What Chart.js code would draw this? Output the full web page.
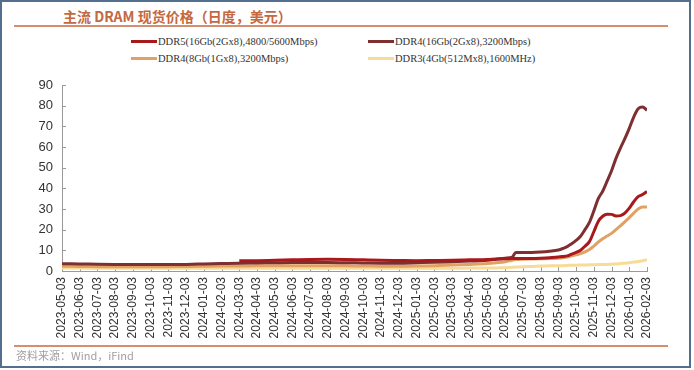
<!DOCTYPE html>
<html>
<head>
<meta charset="utf-8">
<script src="https://cdn.jsdelivr.net/npm/chart.js@4.4.1/dist/chart.umd.min.js"></script>
<style>
  body { margin: 0; width: 694px; height: 370px; background: #fff; overflow: hidden; position: relative; }
  #frame { position: absolute; left: 0; top: 0; width: 691px; height: 368px; border: 2px solid #52708e; box-sizing: border-box; }
  #title { position: absolute; left: 63px; top: 6px; font: bold 14px 'Noto Sans CJK SC', sans-serif; color: #c4683f; white-space: nowrap; }
  .rule { position: absolute; left: 14px; width: 654px; height: 2px; background: #d58f70; }
  #source { position: absolute; left: 16px; top: 347px; font: 11px 'Noto Sans CJK SC', sans-serif; color: #a0a0a0; }
  .lg { position: absolute; font: 10.5px 'Liberation Serif', serif; color: #333; white-space: nowrap; }
  .lg i { display: inline-block; width: 26px; height: 3px; vertical-align: middle; margin-right: 1px; position: relative; top: -1px; }
  #chart { position: absolute; left: 0; top: 0; }
</style>
</head>
<body>
<div id="frame"></div>
<div id="title">主流 DRAM 现货价格（日度，美元）</div>
<div class="rule" style="top:25px"></div>
<div id="legend"></div>
<canvas id="chart" width="694" height="370"></canvas>
<div class="rule" style="top:345px"></div>
<div id="source">资料来源：Wind，iFind</div>
<script>
// tick labels, one per month
const monthLabels = [
  '2023-05-03', '2023-06-03', '2023-07-03', '2023-08-03', '2023-09-03', '2023-10-03',
  '2023-11-03', '2023-12-03', '2024-01-03', '2024-02-03', '2024-03-03', '2024-04-03',
  '2024-05-03', '2024-06-03', '2024-07-03', '2024-08-03', '2024-09-03', '2024-10-03',
  '2024-11-03', '2024-12-03', '2025-01-03', '2025-02-03', '2025-03-03', '2025-04-03',
  '2025-05-03', '2025-06-03', '2025-07-03', '2025-08-03', '2025-09-03', '2025-10-03',
  '2025-11-03', '2025-12-03', '2026-01-03', '2026-02-03',
];

// sample positions, in months after 2023-05-03
const xMonths = [
  0, 1, 2, 3, 4, 5, 6, 7, 8, 9, 10, 11, 12, 13, 14, 15, 16, 17, 18, 19, 20, 21, 22, 23, 24,
  24.5, 25, 25.4, 25.6, 26, 26.5, 27, 27.5,
  28, 28.25, 28.5, 28.75, 29, 29.25, 29.5, 29.75, 30, 30.25, 30.5, 30.75,
  31, 31.25, 31.5, 31.75, 32, 32.25, 32.5, 32.75, 33,
];

const ddr5_16g = [
  null, null, null, null, null, null, null, null, null, null,
  4.9, 5.0, 5.2, 5.4, 5.6, 5.7, 5.6, 5.4, 5.2, 5.1, 5.0, 5.1, 5.2, 5.4, 5.6,
  5.8, 5.9, 6.0, 6.0, 6.1, 6.1, 6.2, 6.4,
  6.8, 7.0, 7.3, 8.2, 9.0, 10.0, 12.0, 14.2, 19.0, 24.0, 26.5, 27.5,
  27.4, 26.6, 26.8, 28.0, 30.4, 33.5, 36.0, 37.0, 38.5,
];

const ddr4_16g = [
  3.5, 3.4, 3.3, 3.2, 3.1, 3.1, 3.1, 3.2, 3.4, 3.6, 3.8, 3.9, 4.0, 4.1, 4.1, 4.1,
  4.0, 3.9, 3.8, 3.8, 4.0, 4.2, 4.5, 4.8, 5.2,
  5.7, 6.2, 6.7, 9.0, 9.0, 9.0, 9.2, 9.6,
  10.2, 10.9, 11.8, 13.2, 14.8, 16.8, 20.0, 23.5, 29.0, 35.0, 38.6, 43.5,
  48.5, 54.5, 59.5, 64.0, 69.0, 74.5, 78.5, 79.4, 77.8,
];

const ddr4_8g = [
  2.3, 2.2, 2.1, 2.0, 2.0, 2.0, 2.1, 2.2, 2.3, 2.4, 2.4, 2.5, 2.5, 2.6, 2.6, 2.6,
  2.5, 2.4, 2.3, 2.3, 2.4, 2.6, 2.9, 3.2, 3.6,
  4.0, 4.5, 5.2, 5.5, 5.7, 5.8, 5.9, 6.0,
  6.2, 6.4, 6.8, 7.3, 7.8, 8.4, 9.3, 10.4, 12.0, 14.0, 15.6, 16.9,
  18.2, 20.0, 21.8, 23.8, 25.8, 28.0, 30.0, 31.0, 31.0,
];

const ddr3_4g = [
  1.4, 1.4, 1.3, 1.3, 1.3, 1.3, 1.3, 1.3, 1.3, 1.3, 1.3, 1.3, 1.3, 1.3, 1.3, 1.3,
  1.3, 1.3, 1.3, 1.3, 1.3, 1.3, 1.3, 1.4, 1.4,
  1.5, 1.6, 1.8, 1.9, 2.1, 2.2, 2.4, 2.5,
  2.6, 2.6, 2.7, 2.8, 2.8, 2.9, 2.9, 3.0, 3.0, 3.1, 3.1, 3.2,
  3.3, 3.4, 3.6, 3.8, 4.0, 4.3, 4.6, 5.0, 5.5,
];

const seriesNames = [
  'DDR5(16Gb(2Gx8),4800/5600Mbps)',
  'DDR4(16Gb(2Gx8),3200Mbps)',
  'DDR4(8Gb(1Gx8),3200Mbps)',
  'DDR3(4Gb(512Mx8),1600MHz)',
];
const seriesColors = ['#a8191c', '#7e2f30', '#e1a163', '#f7dc98'];
const seriesValues = [ddr5_16g, ddr4_16g, ddr4_8g, ddr3_4g];

// legend: two columns, two rows
const legendSpots = [[131, 36], [368, 36], [131, 53], [368, 53]];
const legendBox = document.getElementById('legend');
seriesNames.forEach((name, i) => {
  const d = document.createElement('div');
  d.className = 'lg';
  d.style.left = legendSpots[i][0] + 'px';
  d.style.top = legendSpots[i][1] + 'px';
  d.innerHTML = '<i style="background:' + seriesColors[i] + '"></i><span></span>';
  d.querySelector('span').textContent = name;
  legendBox.appendChild(d);
});

// small ticks pointing into the plot area
const innerTicks = {
  id: 'innerTicks',
  beforeDatasetsDraw(chart) {
    const { ctx, scales: { x, y } } = chart;
    ctx.save();
    ctx.strokeStyle = '#9a9a9a';
    ctx.lineWidth = 1;
    ctx.beginPath();
    x.ticks.forEach(t => {
      const px = Math.round(x.getPixelForValue(t.value)) + 0.5;
      ctx.moveTo(px, y.bottom);
      ctx.lineTo(px, y.bottom - 4);
    });
    y.ticks.forEach(t => {
      const py = Math.round(y.getPixelForValue(t.value)) + 0.5;
      ctx.moveTo(x.left, py);
      ctx.lineTo(x.left + 4, py);
    });
    ctx.stroke();
    ctx.restore();
  },
};

new Chart(document.getElementById('chart'), {
  type: 'line',
  data: {
    datasets: seriesValues.map((vals, i) => ({
      label: seriesNames[i],
      data: xMonths.map((m, k) => ({ x: m, y: vals[k] })),
      borderColor: seriesColors[i],
      backgroundColor: seriesColors[i],
      borderWidth: 3,
      pointRadius: 0,
      cubicInterpolationMode: 'monotone',
      spanGaps: false,
    })),
  },
  options: {
    responsive: false,
    animation: false,
    layout: { padding: { left: 0, top: 85, right: 47, bottom: 28 } },
    plugins: { legend: { display: false }, tooltip: { enabled: false } },
    scales: {
      x: {
        type: 'linear',
        min: 0,
        max: 33,
        afterFit: s => { s.height = 71; },
        grid: { display: false, drawTicks: false },
        border: { color: '#9a9a9a' },
        ticks: {
          stepSize: 1,
          autoSkip: false,
          maxRotation: 90,
          minRotation: 90,
          padding: 6,
          color: '#333',
          font: { family: "'Liberation Sans', Arial, sans-serif", size: 12 },
          callback: v => monthLabels[v] || '',
        },
      },
      y: {
        min: 0,
        max: 90,
        afterFit: s => { s.width = 62; },
        grid: { display: false, drawTicks: false },
        border: { color: '#9a9a9a' },
        ticks: {
          stepSize: 10,
          padding: 9,
          color: '#333',
          font: { family: "'Liberation Sans', Arial, sans-serif", size: 13 },
        },
      },
    },
  },
  plugins: [innerTicks],
});
</script>
</body>
</html>
